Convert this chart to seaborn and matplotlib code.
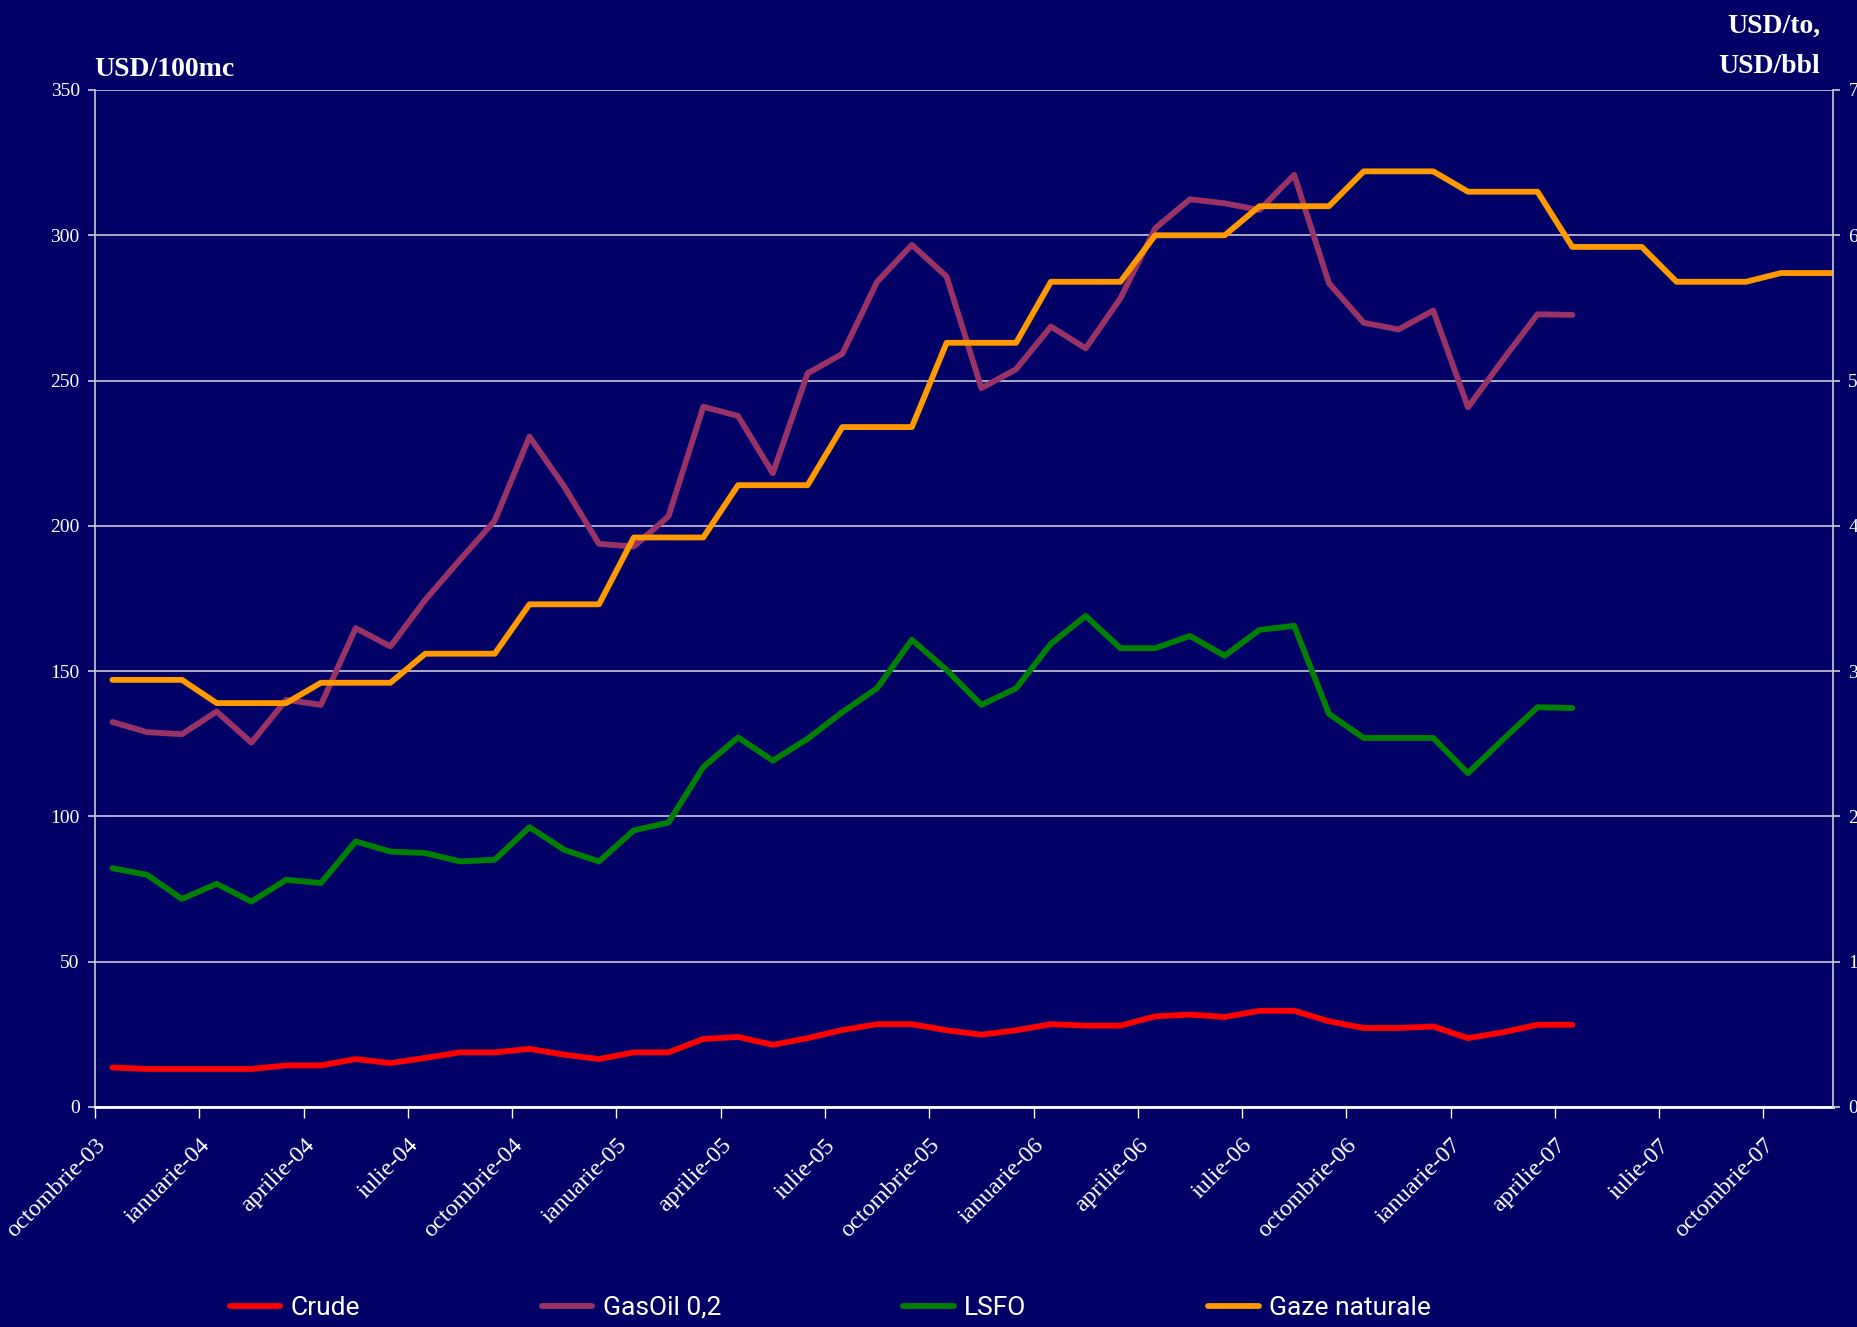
import numpy as np
import pandas as pd
import matplotlib
matplotlib.use("Agg")
import matplotlib.pyplot as plt
import seaborn as sns

# monthly points, octombrie-03 .. decembrie-07
months = ["octombrie-03", "noiembrie-03", "decembrie-03",
          "ianuarie-04", "februarie-04", "martie-04", "aprilie-04", "mai-04", "iunie-04",
          "iulie-04", "august-04", "septembrie-04", "octombrie-04", "noiembrie-04", "decembrie-04",
          "ianuarie-05", "februarie-05", "martie-05", "aprilie-05", "mai-05", "iunie-05",
          "iulie-05", "august-05", "septembrie-05", "octombrie-05", "noiembrie-05", "decembrie-05",
          "ianuarie-06", "februarie-06", "martie-06", "aprilie-06", "mai-06", "iunie-06",
          "iulie-06", "august-06", "septembrie-06", "octombrie-06", "noiembrie-06", "decembrie-06",
          "ianuarie-07", "februarie-07", "martie-07", "aprilie-07", "mai-07", "iunie-07",
          "iulie-07", "august-07", "septembrie-07", "octombrie-07", "noiembrie-07", "decembrie-07"]

tick_labels = ["octombrie-03", "ianuarie-04", "aprilie-04", "iulie-04", "octombrie-04",
               "ianuarie-05", "aprilie-05", "iulie-05", "octombrie-05", "ianuarie-06",
               "aprilie-06", "iulie-06", "octombrie-06", "ianuarie-07", "aprilie-07",
               "iulie-07", "octombrie-07"]

crude = [13.6, 13.1, 13.1, 13.1, 13.1, 14.3, 14.3, 16.5, 15.1, 16.9, 18.8, 18.8, 20.0,
         18.0, 16.5, 18.8, 18.8, 23.4, 24.1, 21.4, 23.7, 26.5, 28.5, 28.5, 26.4, 24.9,
         26.4, 28.5, 28.0, 28.0, 31.2, 31.8, 31.0, 33.1, 33.1, 29.5, 27.2, 27.2, 27.7,
         23.7, 25.7, 28.3, 28.3]

gasoil = [132.5, 129.0, 128.3, 136.1, 125.4, 140.1, 138.4, 164.8, 158.5, 174.5, 188.3,
          201.8, 230.7, 213.5, 193.8, 192.9, 203.3, 241.0, 237.8, 218.1, 252.5, 259.2,
          284.0, 296.7, 285.8, 247.4, 253.9, 268.6, 261.1, 278.3, 302.4, 312.4, 311.0,
          308.7, 320.8, 283.5, 269.9, 267.6, 274.1, 240.8, 257.1, 272.8, 272.6]

lsfo = [82.2, 79.9, 71.6, 76.8, 70.7, 78.2, 77.1, 91.4, 87.9, 87.4, 84.5, 85.1, 96.3,
        88.5, 84.5, 95.2, 97.9, 117.0, 127.2, 119.2, 126.7, 135.9, 144.1, 160.8, 150.4,
        138.4, 144.1, 159.4, 169.0, 157.9, 157.9, 162.1, 155.3, 164.2, 165.6, 135.3,
        127.0, 127.0, 127.0, 114.9, 126.4, 137.6, 137.3]

gaze = [147, 147, 147, 139, 139, 139, 146, 146, 146, 156, 156, 156, 173, 173, 173,
        196, 196, 196, 214, 214, 214, 234, 234, 234, 263, 263, 263, 284, 284, 284,
        300, 300, 300, 310, 310, 310, 322, 322, 322, 315, 315, 315, 296, 296, 296,
        284, 284, 284, 287, 287, 287]

series = {
    "Crude": (crude, "#FF0000"),
    "GasOil 0,2": (gasoil, "#993366"),
    "LSFO": (lsfo, "#008000"),
    "Gaze naturale": (gaze, "#FF9900"),
}

bg = "#000066"
sns.set_theme(style="white", rc={"figure.facecolor": bg, "axes.facecolor": bg,
                                 "savefig.facecolor": bg})
plt.rcParams["font.family"] = ["Liberation Serif", "DejaVu Serif"]

fig = plt.figure(figsize=(18.58, 13.27), dpi=100)
ax = fig.add_axes([0.05113, 0.16579, 0.93541, 0.76639])

for name, (vals, col) in series.items():
    df = pd.DataFrame({"idx": np.arange(len(vals)), "val": vals})
    sns.lineplot(data=df, x="idx", y="val", ax=ax, color=col, linewidth=4.2,
                 label=name, sort=False, solid_capstyle="round", solid_joinstyle="round")

ax.set_xlim(-0.5, 49.5)
ax.set_ylim(0, 350)
ax.set_yticks(np.arange(0, 351, 50))
ax.set_xticks(np.arange(len(tick_labels)) * 3 - 0.5)
ax.set_xticklabels(tick_labels, rotation=45, ha="right", va="top",
                   rotation_mode="anchor", fontsize=17.5, color="white")
ax.set_xlabel("")
ax.set_ylabel("")
ax.yaxis.grid(True, color="#C8C8D8", linewidth=1.2)
ax.set_axisbelow(True)
ax.tick_params(axis="y", length=5, color="#C8C8D0", labelcolor="white",
               labelsize=14, pad=6, left=True)
ax.tick_params(axis="x", length=8, width=1, color="white", pad=12, bottom=True)

ax.spines["top"].set_visible(False)
ax.spines["left"].set_color("#C8C8D0")
ax.spines["left"].set_linewidth(1.2)
ax.spines["bottom"].set_color("white")
ax.spines["bottom"].set_linewidth(2)
ax.spines["right"].set_visible(False)

# right-hand scale (USD/to, USD/bbl), labels run off the edge as in the source
ax2 = ax.twinx()
ax2.set_ylim(0, 70)
ax2.set_yticks(np.arange(0, 71, 10))
ax2.tick_params(axis="y", length=5, color="#C8C8D0", labelcolor="white",
                labelsize=14, pad=6, right=True)
for s in ["top", "left", "bottom"]:
    ax2.spines[s].set_visible(False)
ax2.spines["right"].set_color("#C8C8D0")
ax2.spines["right"].set_linewidth(1.2)

handles, labels = ax.get_legend_handles_labels()
ax.get_legend().remove()
fig.legend(handles, labels, loc="center", bbox_to_anchor=(0.447, 0.0145), ncol=4,
           frameon=False, prop={"family": ["Roboto", "DejaVu Sans"], "size": 19},
           handlelength=1.9, handletextpad=0.4, columnspacing=6.9, labelcolor="white")

fig.text(94 / 1858, 1 - 76 / 1327, "USD/100mc", color="white", fontsize=20,
         fontweight="bold", ha="left", va="baseline")
fig.text(1820 / 1858, 1 - 33 / 1327, "USD/to,", color="white", fontsize=20,
         fontweight="bold", ha="right", va="baseline")
fig.text(1820 / 1858, 1 - 73 / 1327, "USD/bbl", color="white", fontsize=20,
         fontweight="bold", ha="right", va="baseline")

fig.savefig("out.png", dpi=100, facecolor=bg)
